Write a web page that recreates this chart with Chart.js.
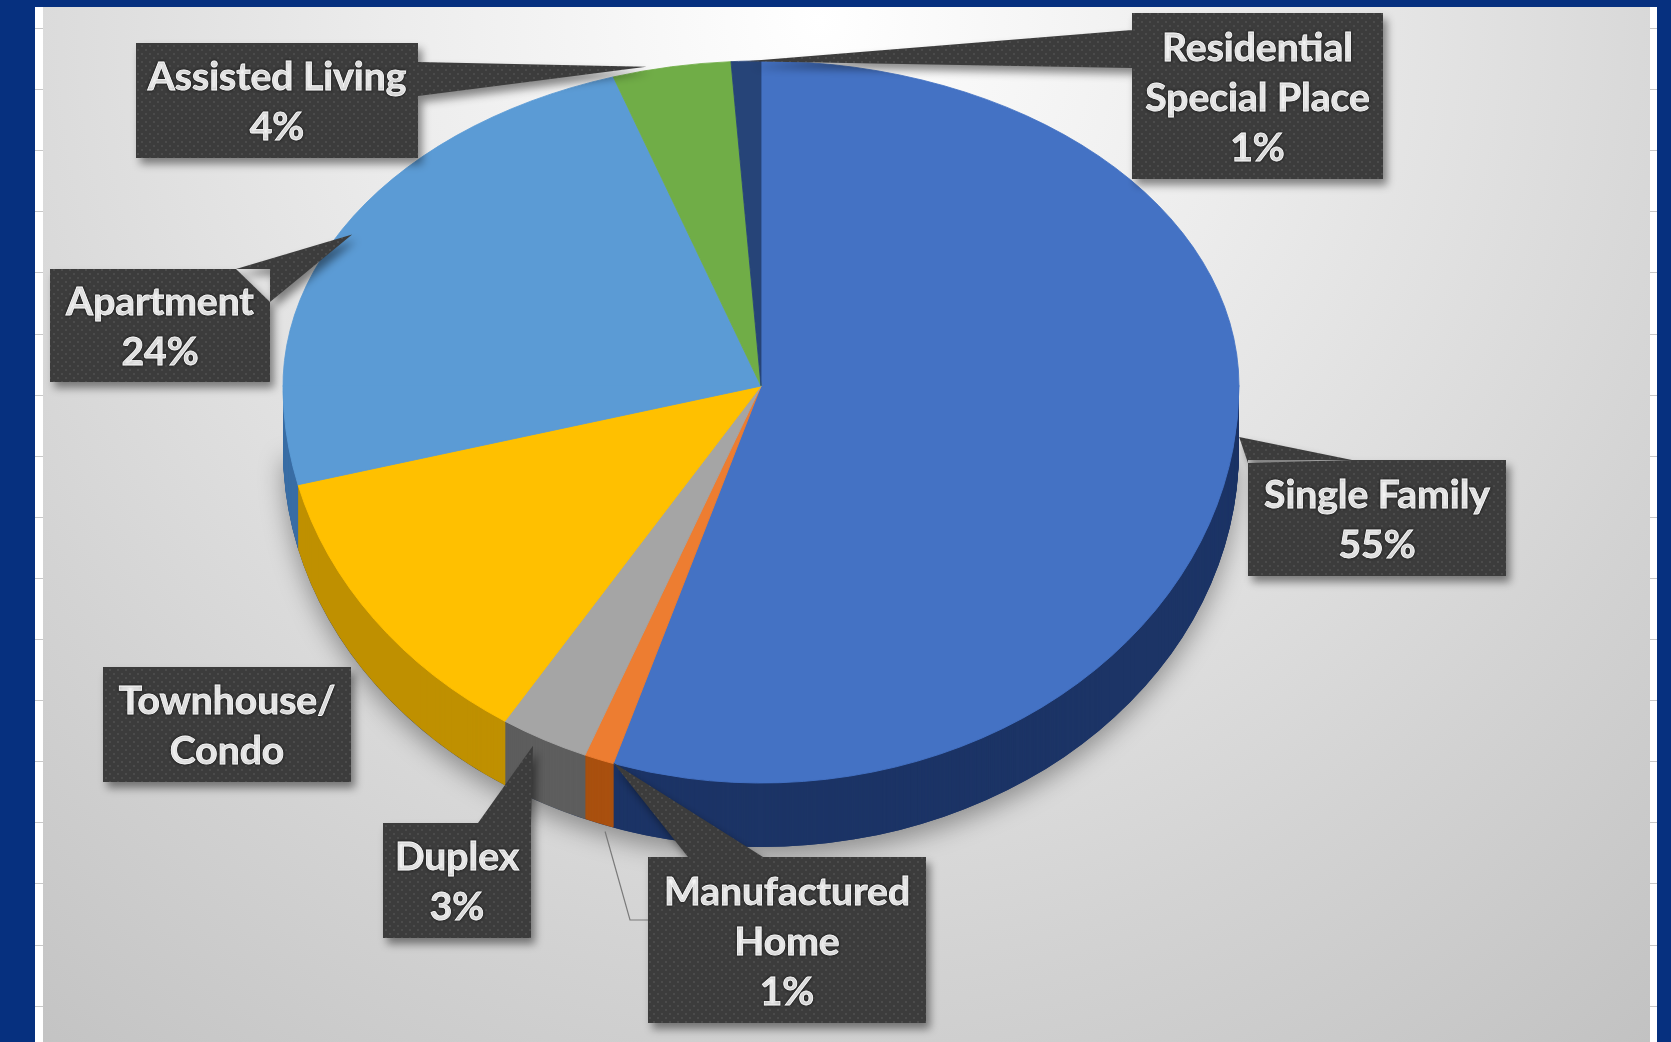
<!DOCTYPE html>
<html><head><meta charset="utf-8">
<script src="https://cdn.jsdelivr.net/npm/chart.js@4"></script>
<style>html,body{margin:0;padding:0;background:#06307f;overflow:hidden}canvas{display:block}</style>
</head><body>
<canvas id="c" width="1671" height="1042"></canvas>
<script>
// ---- data ----
const categories = ['Single Family','Manufactured Home','Duplex','Townhouse/Condo','Apartment','Assisted Living','Residential Special Place'];
const values = [55, 1, 3, 12, 24, 4, 1];
const labelLines = [['Single Family','55%'],['Manufactured','Home','1%'],['Duplex','3%'],['Townhouse/','Condo'],['Apartment','24%'],['Assisted Living','4%'],['Residential','Special Place','1%']];
const topColors = ['#4472C4','#ED7D31','#A5A5A5','#FFC000','#5B9BD5','#70AD47','#264478'];
const sideColors = ['#1C3466','#A9500F','#5E5E5E','#BF9000','#3A6EA5','#4E7A32','#172A4B'];

// ---- layout (not data) ----
const W = 1671, H = 1042;
const CX = 761, APEX_Y = 386, RX = 478, RY_UP = 325, RY_DN = 397, DEPTH = 64;
const KU = RY_UP / RX, KD = RY_DN / RX;
const FONT = 'bold 39px Lato, "Open Sans", sans-serif';
const LINE_H = 50;
const callouts = [
  {box:[1248,460,258,116], base:[[1248,463],[1352,460]], dx:6,  dy:-11},
  {box:[648,857,278,166],  base:[[688,857],[763,857]],   dx:14, dy:3},
  {box:[383,823,148,115],  base:[[478,823],[531,823]],   dx:-11,dy:6},
  {box:[103,667,248,115],  base:null},
  {box:[50,269,220,113],   base:[[236,269],[270,302]],   dx:10, dy:5},
  {box:[136,43,282,115],   base:[[418,62],[418,96]],     dx:-25,dy:0},
  {box:[1132,13,251,166],  base:[[1132,30],[1132,68]],   dx:0,  dy:0}
];

function makePattern(ctx){
  const p = document.createElement('canvas'); p.width = 8; p.height = 8;
  const g = p.getContext('2d');
  g.fillStyle = '#3c3c3c'; g.fillRect(0,0,8,8);
  g.fillStyle = '#4b4b4b'; g.fillRect(1,1,2,2); g.fillRect(5,5,2,2);
  return ctx.createPattern(p,'repeat');
}
function setHalf(ctx, cx, cy, k){
  ctx.translate(cx, APEX_Y); ctx.scale(1, k); ctx.translate(-cx, -cy);
}

const pie3d = {
  id: 'pie3d',
  beforeDraw(chart){
    const ctx = chart.ctx;
    ctx.save();
    ctx.fillStyle = '#06307f'; ctx.fillRect(0,0,W,H);
    ctx.fillStyle = '#ffffff'; ctx.fillRect(35,7,1622,H-7);
    const g = ctx.createRadialGradient(820,20,0,820,20,1450);
    g.addColorStop(0,'#ffffff');
    g.addColorStop(0.3,'#ececec');
    g.addColorStop(0.65,'#d3d3d3');
    g.addColorStop(1,'#bcbcbc');
    ctx.fillStyle = g; ctx.fillRect(43,7,1607,H-7);
    ctx.strokeStyle = '#c8c8c8'; ctx.lineWidth = 1;
    for (let y = 28; y < H; y += 61.1) {
      ctx.beginPath(); ctx.moveTo(35,Math.round(y)+0.5); ctx.lineTo(43,Math.round(y)+0.5); ctx.stroke();
      ctx.beginPath(); ctx.moveTo(1650,Math.round(y)+0.5); ctx.lineTo(1657,Math.round(y)+0.5); ctx.stroke();
    }
    ctx.restore();
  },
  beforeDatasetsDraw(chart){
    const ctx = chart.ctx;
    const meta = chart.getDatasetMeta(0);
    const a0 = meta.data[0];
    const cx = a0.x, cy = a0.y;
    // side walls (only the lower half is visible)
    ctx.save();
    ctx.beginPath(); ctx.rect(0, APEX_Y, W, H - APEX_Y); ctx.clip();
    setHalf(ctx, cx, cy, KD);
    ctx.save();
    ctx.shadowColor = 'rgba(0,0,0,0.35)'; ctx.shadowBlur = 24; ctx.shadowOffsetY = 10;
    ctx.beginPath(); ctx.arc(cx, cy + DEPTH / KD, a0.outerRadius, 0, Math.PI);
    ctx.closePath(); ctx.fillStyle = sideColors[0]; ctx.fill();
    ctx.restore();
    for (let d = DEPTH; d >= 1; d--) {
      meta.data.forEach((el, i) => {
        ctx.beginPath();
        ctx.moveTo(el.x, el.y + d / KD);
        ctx.arc(el.x, el.y + d / KD, el.outerRadius, el.startAngle, el.endAngle);
        ctx.closePath();
        ctx.fillStyle = sideColors[i]; ctx.fill();
      });
    }
    ctx.restore();
    // upper half of the top face: drawn by the library
    ctx.save();
    ctx.beginPath(); ctx.rect(0, 0, W, APEX_Y + 0.5); ctx.clip();
    setHalf(ctx, cx, cy, KU);
  },
  afterDatasetsDraw(chart){
    const ctx = chart.ctx;
    ctx.restore();
    const meta = chart.getDatasetMeta(0);
    const a0 = meta.data[0];
    const cx = a0.x, cy = a0.y;
    // lower half of the top face
    ctx.save();
    ctx.beginPath(); ctx.rect(0, APEX_Y - 0.5, W, H); ctx.clip();
    setHalf(ctx, cx, cy, KD);
    meta.data.forEach(el => el.draw(ctx));
    ctx.restore();

    const pat = makePattern(ctx);
    const anchors = meta.data.map(el => {
      const m = (el.startAngle + el.endAngle) / 2;
      const s = Math.sin(m);
      return [el.x + el.outerRadius * Math.cos(m), APEX_Y + el.outerRadius * (s < 0 ? KU : KD) * s];
    });
    // thin leader for Manufactured Home
    const ci = callouts[1];
    ctx.save();
    ctx.strokeStyle = '#7a7a7a'; ctx.lineWidth = 1.2;
    ctx.beginPath();
    ctx.moveTo(anchors[1][0] + 6, anchors[1][1] + 72);
    ctx.lineTo(ci.box[0] - 18, ci.box[1] + 63);
    ctx.lineTo(ci.box[0], ci.box[1] + 63);
    ctx.stroke();
    ctx.restore();
    // wedges + boxes
    callouts.forEach((c, i) => {
      ctx.save();
      ctx.shadowColor = 'rgba(0,0,0,0.45)'; ctx.shadowBlur = 9; ctx.shadowOffsetX = 4; ctx.shadowOffsetY = 6;
      ctx.fillStyle = pat;
      ctx.beginPath();
      if (c.base) {
        const ax = anchors[i][0] + c.dx, ay = anchors[i][1] + c.dy;
        ctx.moveTo(ax, ay);
        ctx.lineTo(c.base[0][0], c.base[0][1]);
        ctx.lineTo(c.base[1][0], c.base[1][1]);
        ctx.closePath();
      }
      ctx.rect(c.box[0], c.box[1], c.box[2], c.box[3]);
      ctx.fill('nonzero');
      ctx.restore();
    });
    // texts
    ctx.save();
    ctx.font = FONT; ctx.textAlign = 'center'; ctx.textBaseline = 'middle';
    ctx.fillStyle = '#ffffff'; ctx.strokeStyle = '#ffffff'; ctx.lineWidth = 0.8;
    ctx.shadowColor = 'rgba(0,0,0,0.7)'; ctx.shadowBlur = 3;
    callouts.forEach((c, i) => {
      const lines = labelLines[i];
      const mx = c.box[0] + c.box[2] / 2, my = c.box[1] + c.box[3] / 2;
      lines.forEach((t, j) => {
        const y = my + (j - (lines.length - 1) / 2) * LINE_H + 2;
        ctx.fillText(t, mx, y);
        ctx.strokeText(t, mx, y);
      });
    });
    ctx.restore();
  }
};

new Chart(document.getElementById('c'), {
  type: 'pie',
  data: {
    labels: categories,
    datasets: [{
      data: values,
      backgroundColor: topColors,
      borderColor: topColors,
      borderWidth: 1,
      hoverOffset: 0,
      offset: 0,
      clip: false
    }]
  },
  options: {
    responsive: false,
    animation: false,
    events: [],
    radius: RX,
    rotation: 0,
    layout: { padding: { left: CX - RX, right: W - (CX + RX), top: 40, bottom: H - 40 - 2 * RX } },
    plugins: { legend: { display: false }, tooltip: { enabled: false } }
  },
  plugins: [pie3d]
});
</script>
</body></html>
